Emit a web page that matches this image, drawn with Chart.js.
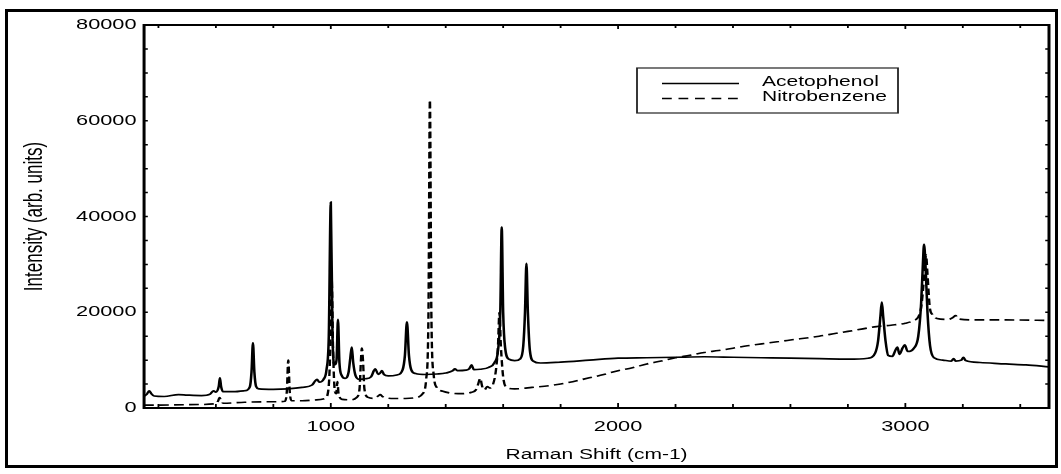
<!DOCTYPE html>
<html>
<head>
<meta charset="utf-8">
<script src="https://cdn.jsdelivr.net/npm/chart.js@4"></script>
<style>
  html, body { margin: 0; padding: 0; background: #fff; }
  #wrap { position: absolute; left: 0; top: 0; width: 1061px; height: 474px; }
  canvas { display: block; }
</style>
</head>
<body>
<div id="wrap"><canvas id="c" width="707" height="474"></canvas></div>
<script>
// ---------- data ----------
const seriesNames = ['Acetophenol', 'Nitrobenzene'];

const acetoX = [350,360,368,375,385,420,470,500,550,580,592,600,610,614,618,625,660,700,718,724,729,734,740,750,800,850,900,935,945,952,960,975,985,993,1000,1006,1013,1020,1025,1030,1038,1050,1062,1068,1073,1078,1086,1100,1120,1140,1150,1155,1165,1172,1178,1185,1200,1230,1250,1258,1265,1272,1280,1295,1330,1370,1400,1425,1432,1440,1470,1482,1490,1498,1520,1550,1570,1582,1590,1595,1600,1607,1620,1640,1660,1670,1676,1681,1686,1693,1705,1730,1800,1900,2000,2100,2200,2300,2400,2500,2600,2700,2800,2870,2895,2905,2913,2918,2923,2931,2940,2955,2965,2972,2980,2990,2998,3008,3030,3045,3055,3061,3065,3070,3077,3086,3100,3130,3160,3168,3175,3195,3202,3210,3260,3350,3420,3500];
const acetoY = [2500,2900,3600,3000,2500,2400,2800,2700,2600,2900,3600,3300,4500,6300,4500,3400,3400,3600,4400,7500,13600,7500,4500,4000,3900,4000,4300,4800,5600,6000,5400,6000,8000,15000,43000,15000,9000,10000,18500,9500,6800,6200,7500,10500,12700,9500,6800,6000,6100,6500,7800,8200,7000,7300,7800,7000,6700,6900,8000,11000,18000,11000,8000,7200,7000,7100,7300,7800,8200,7800,7900,8200,9000,8000,8100,8500,9500,12000,20000,37800,20000,12500,10200,9900,10300,13000,20000,30200,20000,12000,9800,9400,9600,10000,10400,10500,10600,10700,10600,10500,10400,10300,10200,10400,11500,14000,19000,22100,19000,14000,11000,10800,12000,12700,11200,12500,13200,11800,12500,15000,22000,30000,34200,30000,20000,13000,10500,10000,9800,10300,9800,10000,10600,9900,9500,9200,9000,8600];

const nitroX = [350,400,500,600,608,613,618,625,700,800,840,847,852,857,864,900,950,980,992,998,1003,1008,1014,1019,1023,1027,1040,1070,1090,1100,1105,1108,1112,1117,1130,1150,1165,1172,1180,1210,1260,1300,1320,1332,1340,1345,1350,1358,1370,1390,1420,1460,1490,1505,1513,1520,1527,1535,1545,1552,1565,1575,1582,1587,1592,1600,1612,1640,1700,1800,1900,1950,2000,2050,2100,2150,2200,2250,2300,2350,2400,2450,2500,2600,2700,2750,2800,2900,2950,3000,3030,3045,3055,3062,3068,3072,3077,3085,3095,3110,3150,3165,3175,3185,3250,3350,3500];
const nitroY = [600,600,700,900,1500,2200,1500,1000,1200,1300,1400,3500,10000,3500,1500,1500,1700,2000,4000,12000,27000,12000,3500,3000,5500,3000,1800,1700,2200,4000,10000,12500,10000,4000,2200,2000,2500,2800,2400,2000,2000,2200,3000,6000,20000,64300,20000,7000,4200,3500,3100,3000,3300,3800,5000,6200,4500,3800,4500,4200,5000,8000,13000,20000,13000,6500,4300,4000,4300,5000,6300,7000,7800,8400,9200,9800,10500,11000,11600,12000,12500,13000,13400,14200,15000,15500,16000,17000,17300,17700,18300,19000,21000,25000,30000,32000,28000,21000,19500,18700,18500,18900,19300,18600,18400,18400,18300];

const xTickLabels = [1000, 2000, 3000];
const yTickLabels = [0, 20000, 40000, 60000, 80000];
const xMinorTicks = [400,600,800,1000,1200,1400,1600,1800,2000,2200,2400,2600,2800,3000,3200,3400];
const yMinorTicks = [5000,10000,15000,20000,25000,30000,35000,40000,45000,50000,55000,60000,65000,70000,75000];

// ---------- rendering ----------
const W0 = 707;            // logical width (drawn stretched horizontally to 1061)
const S = 1061 / W0;
const FONT = "'Liberation Sans', Arial, Helvetica, sans-serif";

const framePlugin = {
  id: 'frame',
  afterDatasetsDraw(chart) {
    const ctx = chart.ctx;
    const {left, right, top, bottom} = chart.chartArea;
    const xs = chart.scales.x, ys = chart.scales.y;
    ctx.save();
    ctx.strokeStyle = '#000';
    ctx.lineWidth = 2;
    ctx.strokeRect(left, top, right - left, bottom - top);
    ctx.lineWidth = 1.2;
    ctx.beginPath();
    xMinorTicks.forEach(v => {
      const px = xs.getPixelForValue(v);
      const len = xTickLabels.includes(v) ? 5 : 4;
      ctx.moveTo(px, bottom); ctx.lineTo(px, bottom - len);
      ctx.moveTo(px, top); ctx.lineTo(px, top + len - 1);
    });
    ctx.stroke();
    ctx.lineWidth = 1.5;
    ctx.beginPath();
    yMinorTicks.forEach(v => {
      const py = ys.getPixelForValue(v);
      ctx.moveTo(left, py); ctx.lineTo(left + 2.5, py);
      ctx.moveTo(right, py); ctx.lineTo(right - 2.5, py);
    });
    ctx.stroke();

    // legend box (inside plot area)
    const lx = 637 / S, ly = 68, lw = (898 - 637) / S, lh = 45;
    ctx.fillStyle = '#fff';
    ctx.fillRect(lx, ly, lw, lh);
    ctx.lineWidth = 1.2;
    ctx.strokeStyle = '#222';
    ctx.strokeRect(lx, ly, lw, lh);
    const rows = [83.5, 98.5];
    chart.data.datasets.forEach((ds, i) => {
      ctx.save();
      ctx.strokeStyle = ds.borderColor;
      ctx.lineWidth = 1.3;
      ctx.setLineDash(ds.borderDash ? [6.5, 4.5] : []);
      ctx.beginPath();
      ctx.moveTo(662 / S, rows[i]);
      ctx.lineTo(739 / S, rows[i]);
      ctx.stroke();
      ctx.restore();
      ctx.fillStyle = '#000';
      ctx.font = "14px " + FONT;
      ctx.textBaseline = 'middle';
      ctx.textAlign = 'left';
      ctx.fillText(ds.label, 762 / S, rows[i] - 1);
    });
    ctx.restore();
  },
  afterDraw(chart) {
    const ctx = chart.ctx;
    ctx.save();
    ctx.setTransform(1, 0, 0, 1, 0, 0);
    ctx.strokeStyle = '#000';
    ctx.lineWidth = 3;
    ctx.strokeRect(6.5, 10.5, 1050, 456);
    ctx.restore();
  }
};

const canvas = document.getElementById('c');
const chart = new Chart(canvas.getContext('2d'), {
  type: 'line',
  data: {
    datasets: [
      {
        label: seriesNames[0],
        data: acetoX.map((x, i) => ({x, y: acetoY[i]})),
        borderColor: '#000',
        borderWidth: 1.7,
        pointRadius: 0,
        fill: false,
        cubicInterpolationMode: 'monotone'
      },
      {
        label: seriesNames[1],
        data: nitroX.map((x, i) => ({x, y: nitroY[i]})),
        borderColor: '#000',
        borderWidth: 1.6,
        borderDash: [6.5, 3.5],
        pointRadius: 0,
        fill: false,
        cubicInterpolationMode: 'monotone'
      }
    ]
  },
  options: {
    responsive: false,
    maintainAspectRatio: false,
    animation: false,
    devicePixelRatio: 1,
    events: [],
    layout: { padding: { left: 0, right: 8, top: 25, bottom: 0 } },
    scales: {
      x: {
        type: 'linear',
        min: 350,
        max: 3500,
        afterBuildTicks: s => { s.ticks = xTickLabels.map(v => ({value: v})); },
        afterFit: s => { s.height = 66; },
        grid: { display: false, drawTicks: false },
        border: { display: false },
        ticks: { color: '#000', padding: 10, maxRotation: 0, autoSkip: false,
                  font: { family: FONT, size: 14.5 }, callback: v => String(v) },
        title: { display: true, text: 'Raman Shift (cm-1)', color: '#000',
                 font: { family: FONT, size: 14 }, padding: { top: 0, bottom: 10.5 } }
      },
      y: {
        type: 'linear',
        min: 0,
        max: 80000,
        afterBuildTicks: s => { s.ticks = yTickLabels.map(v => ({value: v})); },
        afterFit: s => { s.width = 96; },
        grid: { display: false, drawTicks: false },
        border: { display: false },
        ticks: { color: '#000', padding: 5, autoSkip: false,
                 font: { family: FONT, size: 14.5 }, callback: v => String(v) },
        title: { display: true, text: 'Intensity (arb. units)', color: '#000',
                 font: { family: FONT, size: 17 }, padding: { top: 13, bottom: 0 } }
      }
    },
    plugins: { legend: { display: false }, tooltip: { enabled: false } }
  },
  plugins: [framePlugin]
});

// stretch the drawing horizontally, as in the reference
canvas.width = 1061;
canvas.style.width = '1061px';
canvas.style.height = '474px';
chart.ctx.setTransform(S, 0, 0, 1, 0, 0);
chart.draw();
</script>
</body>
</html>
